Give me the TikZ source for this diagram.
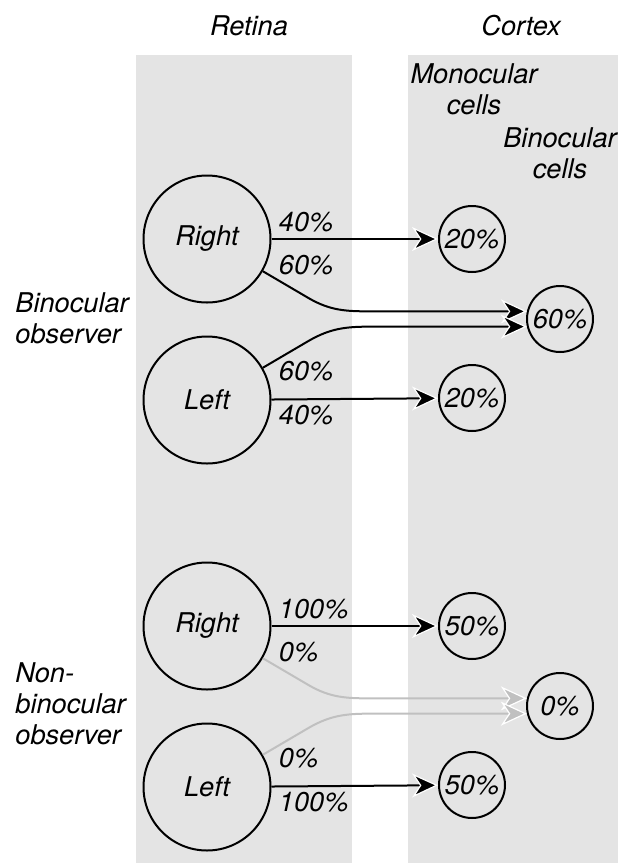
\documentclass[tikz,border=0pt]{standalone}
\usepackage{fontspec}
\setmainfont{TeX Gyre Heros}
\usepackage{xcolor}
\usetikzlibrary{arrows.meta, positioning, calc}
\definecolor{bandgray}{RGB}{228,228,228}
\definecolor{deadgray}{RGB}{192,192,192}
\tikzset{
    eye/.style={
        circle,
        draw=black,
        line width=1pt,
        minimum size=63.5pt,
        inner sep=0pt,
    },
    cell/.style={
        circle,
        draw=black,
        line width=1pt,
        minimum size=33pt,
        inner sep=0pt,
    },
    pct/.style={
        inner sep=0pt,
        anchor=base west,
    },
    live/.style={
        line width=1pt,
        -{Stealth[length=13pt,width=12pt,inset=4pt,color=white,fill=black,line width=0.6pt]},
    },
    dead/.style={
        line width=1pt,
        draw=deadgray,
        -{Stealth[length=13pt,width=12pt,inset=4pt,color=white,fill=deadgray,line width=0.6pt]},
    },
}

\begin{document}
\begin{tikzpicture}[x=0.5pt, y=-0.5pt, font=\itshape\fontsize{13.6}{15.5}\selectfont]
      \useasboundingbox (0,0) rectangle (618,863);
      \fill[bandgray] (136,55) rectangle (352,863);
      \fill[bandgray] (408,55) rectangle (618,863);

      \node[anchor=base] (Retina) at (249,35) {Retina};
      \node[anchor=base] (Cortex) at (521,35) {Cortex};
      \node[align=center] (Mono) at (474,89) {Monocular\\cells};
      \node[align=center] (Bino) at (560,153) {Binocular\\cells};
      \node[align=left, anchor=west, inner sep=0pt] (ObsA) at (15,318) {Binocular\\observer};
      \node[align=left, anchor=west, inner sep=0pt] (ObsB) at (15,704) {Non-\\binocular\\observer};
      \coordinate (split) at (370,0);

      % binocular observer
      \node[eye] (R1) at (207,239) {Right};
      \node[eye] (L1) [below=16pt of R1] {Left};
      \node[cell] (M1) at (472,239) {20\%};
      \node[cell] (M2) at (472,398) {20\%};
      \node[cell] (B1) at (560,319) {60\%};

      \node[pct] (R1up) at ($(R1.east)+(7,-8)$) {40\%};
      \node[pct] (R1dn) at ($(R1.east)+(7,35)$) {60\%};
      \node[pct] (L1up) at ($(L1.east)+(7,-20)$) {60\%};
      \node[pct] (L1dn) at ($(L1.east)+(7,24)$) {40\%};

      \draw[live] (R1) -- (M1);
      \draw[live] (L1) -- (M2);
      \draw[live] (R1.-30) -- ++(46,27) to[out=-30,in=180] (split |- B1.167) -- (B1.167);
      \draw[live] (L1.30) -- ++(46,-27) to[out=30,in=180] (split |- B1.193) -- (B1.193);

      % non-binocular observer
      \node[eye] (R2) at (207,626) {Right};
      \node[eye] (L2) [below=16pt of R2] {Left};
      \node[cell] (M3) at (472,626) {50\%};
      \node[cell] (M4) at (472,785) {50\%};
      \node[cell] (B2) at (560,706) {0\%};

      \node[pct] (R2up) at ($(R2.east)+(7,-8)$) {100\%};
      \node[pct] (R2dn) at ($(R2.east)+(7,35)$) {0\%};
      \node[pct] (L2up) at ($(L2.east)+(7,-20)$) {0\%};
      \node[pct] (L2dn) at ($(L2.east)+(7,24)$) {100\%};

      \draw[live] (R2) -- (M3);
      \draw[live] (L2) -- (M4);
      \draw[dead] (R2.-30) -- ++(46,27) to[out=-30,in=180] (split |- B2.167) -- (B2.167);
      \draw[dead] (L2.30) -- ++(46,-27) to[out=30,in=180] (split |- B2.193) -- (B2.193);
\end{tikzpicture}
\end{document}
